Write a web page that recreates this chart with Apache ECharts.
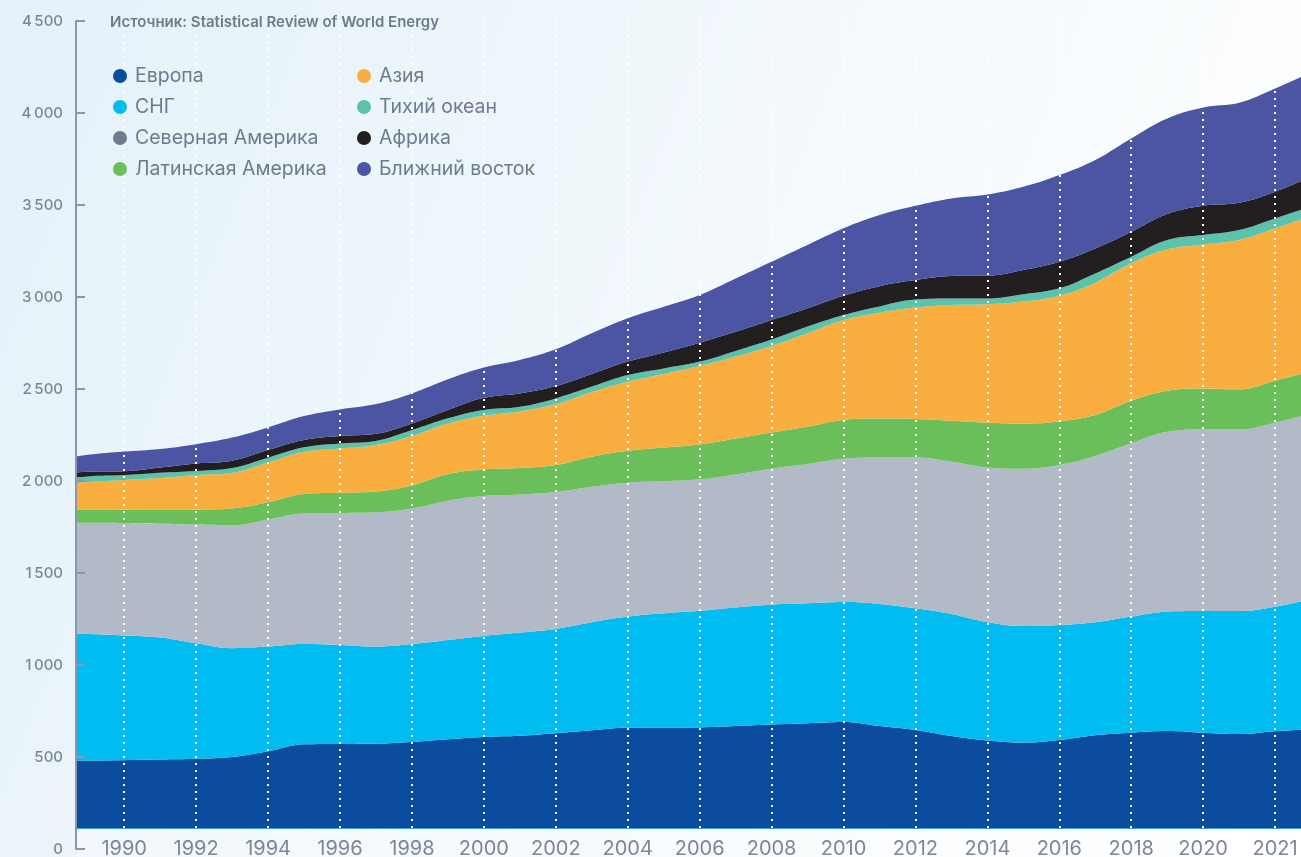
<!DOCTYPE html>
<html>
<head>
<meta charset="utf-8">
<script src="https://cdn.jsdelivr.net/npm/echarts@6/dist/echarts.min.js"></script>
<style>
  html, body { margin: 0; padding: 0; }
  #chart { width: 1301px; height: 857px; }
</style>
</head>
<body>
<div id="chart"></div>
<script>
// годы (видимая часть оси — примерно 1988.7 … 2022.7)
const years = [1988, 1989, 1990, 1991, 1992, 1993, 1994, 1995, 1996, 1997, 1998, 1999,
  2000, 2001, 2002, 2003, 2004, 2005, 2006, 2007, 2008, 2009, 2010, 2011,
  2012, 2013, 2014, 2015, 2016, 2017, 2018, 2019, 2020, 2021, 2022, 2023]

const europe = [478, 481, 483, 486, 490, 500, 531, 569, 571, 572, 581, 596,
  609, 615, 629, 645, 659, 660, 661, 668, 676, 683, 690, 668,
  647, 614, 589, 578, 592, 618, 632, 641, 632, 625, 640, 651]
const cis = [697, 688, 678, 664, 628, 591, 569, 545, 538, 528, 533, 540,
  549, 561, 567, 587, 604, 621, 634, 645, 652, 652, 652, 664,
  661, 663, 643, 634, 625, 614, 631, 649, 661, 668, 677, 706]
const northAmerica = [599, 604, 611, 618, 645, 668, 691, 709, 717, 730, 737, 757,
  760, 750, 744, 737, 728, 717, 714, 723, 739, 757, 779, 796,
  820, 828, 842, 855, 870, 904, 942, 978, 987, 987, 1000, 1010]
const latinAmerica = [71, 72, 73, 77, 82, 92, 93, 106, 110, 113, 125, 145,
  145, 145, 147, 163, 173, 184, 190, 195, 197, 203, 211, 211,
  209, 223, 243, 246, 237, 223, 231, 222, 223, 218, 228, 229]
const asia = [133, 150, 161, 171, 188, 194, 217, 230, 241, 253, 269, 275,
  292, 307, 331, 352, 376, 400, 426, 445, 470, 508, 543, 576,
  606, 629, 643, 662, 683, 719, 747, 769, 783, 812, 828, 845]
const pacific = [30, 30, 26, 29, 22, 26, 26, 24, 27, 22, 32, 28,
  31, 25, 31, 29, 36, 30, 24, 31, 35, 36, 27, 34,
  43, 35, 32, 40, 40, 50, 36, 51, 51, 54, 54, 51]
const africa = [26, 25, 21, 28, 40, 39, 41, 40, 41, 39, 36, 45,
  66, 73, 67, 69, 73, 87, 103, 104, 106, 100, 105, 110,
  106, 122, 124, 132, 145, 136, 136, 141, 159, 148, 145, 163]
const middleEast = [80, 92, 107, 101, 105, 126, 123, 130, 144, 161, 163, 167,
  165, 182, 200, 221, 235, 248, 259, 290, 317, 344, 366, 386,
  404, 422, 441, 452, 471, 481, 507, 519, 534, 544, 561, 567]

const xTickYears = [1990, 1992, 1994, 1996, 1998, 2000, 2002, 2004, 2006, 2008, 2010,
  2012, 2014, 2016, 2018, 2020, 2022]
const xTickLabels = ['1990', '1992', '1994', '1996', '1998', '2000', '2002', '2004', '2006', '2008', '2010',
  '2012', '2014', '2016', '2018', '2020', '2021']
const yTickValues = [0, 500, 1000, 1500, 2000, 2500, 3000, 3500, 4000, 4500]
const yTickLabels = ['0', '500', '1\u2009000', '1\u2009500', '2\u2009000', '2\u2009500', '3\u2009000', '3\u2009500', '4\u2009000', '4\u2009500']

const regions = [
  {name: 'Европа', data: europe, color: '#0b4c9f'},
  {name: 'СНГ', data: cis, color: '#00bcf1'},
  {name: 'Северная Америка', data: northAmerica, color: '#b1bac6', legendColor: '#6f7c8e'},
  {name: 'Латинская Америка', data: latinAmerica, color: '#6bbf5b'},
  {name: 'Азия', data: asia, color: '#fbae40'},
  {name: 'Тихий океан', data: pacific, color: '#5bc3ab'},
  {name: 'Африка', data: africa, color: '#231f20'},
  {name: 'Ближний восток', data: middleEast, color: '#4b55a3'}
]

const textColor = '#6d7b8f'
const axisColor = '#8b97a8'
const xMin = 1988.66
const xMax = 2022.72
const gridBottom = 8
const bandHeight = 21 // светлая полоса под областями, где стоят подписи лет

function legendBlock(items, left) {
  return {
    orient: 'vertical',
    left: left,
    top: 61,
    icon: 'circle',
    itemWidth: 20,
    itemHeight: 14,
    itemGap: 11,
    selectedMode: false,
    textStyle: {fontFamily: 'Inter', fontSize: 19.5, color: textColor, lineHeight: 20},
    data: items.map(r => r.legendColor ? {name: r.name, itemStyle: {color: r.legendColor}} : {name: r.name})
  }
}

const chart = echarts.init(document.getElementById('chart'), null, {renderer: 'canvas'})

chart.setOption({
  animation: false,
  backgroundColor: {
    type: 'linear', x: 0, y: 0, x2: 1, y2: 0.6,
    colorStops: [{offset: 0, color: '#e4f1f9'}, {offset: 1, color: '#ffffff'}]
  },
  // подписи лет выходят за нижний край, как в оригинале — сетку не сжимаем
  grid: {left: 76, right: 0, top: 21, bottom: gridBottom, outerBoundsMode: 'none'},
  legend: [legendBlock(regions.slice(0, 4), 108), legendBlock(regions.slice(4), 352)],
  graphic: [
    {
      type: 'rect', z: 5, silent: true,
      shape: {x: 77, y: 857 - gridBottom - bandHeight + 0.5, width: 1224, height: bandHeight + gridBottom},
      style: {
        fill: {
          type: 'linear', x: 0, y: 0, x2: 1, y2: 0,
          colorStops: [{offset: 0, color: '#f2f8fb'}, {offset: 1, color: '#ffffff'}]
        }
      }
    },
    {
      type: 'text', left: 110, top: 15, z: 10,
      style: {
        text: 'Источник: Statistical Review of World Energy',
        fill: textColor,
        font: '600 15px Inter'
      }
    }
  ],
  xAxis: [
    {
      // подписи лет и линия основания
      type: 'value', min: xMin, max: xMax, z: 10,
      position: 'bottom', offset: -bandHeight,
      axisLine: {show: true, lineStyle: {color: '#3b9be0', width: 1}},
      axisTick: {show: false},
      splitLine: {show: false},
      axisLabel: {
        customValues: xTickYears,
        margin: 11,
        fontFamily: 'Inter',
        fontSize: 20,
        color: '#7b8799',
        formatter: v => xTickLabels[xTickYears.indexOf(v)] || ''
      }
    },
    {
      // пунктирные вертикальные линии поверх областей
      type: 'value', min: xMin, max: xMax, z: 4,
      axisLine: {show: false},
      axisLabel: {show: false},
      axisTick: {show: false, customValues: xTickYears},
      splitLine: {show: true, lineStyle: {color: '#ffffff', width: 2, type: [2, 5]}}
    }
  ],
  yAxis: {
    type: 'value', min: 0, max: 4500, interval: 500, z: 10,
    axisLine: {show: true, lineStyle: {color: axisColor, width: 2}},
    axisTick: {show: true, inside: true, length: 9, lineStyle: {color: axisColor, width: 2}},
    splitLine: {show: false},
    axisLabel: {
      margin: 13,
      fontFamily: 'Inter',
      fontWeight: 500,
      fontSize: 15,
      color: '#7b8799',
      formatter: v => yTickLabels[yTickValues.indexOf(v)]
    }
  },
  series: regions.map(r => ({
    name: r.name,
    type: 'line',
    stack: 'total',
    smooth: 0.4,
    symbol: 'none',
    color: r.color,
    lineStyle: {width: 0},
    areaStyle: {color: r.color, opacity: 1},
    emphasis: {disabled: true},
    // первое измерение — значение, чтобы стек шёл по оси Y
    dimensions: ['value', 'year'],
    encode: {x: 'year', y: 'value'},
    data: years.map((y, i) => [r.data[i], y])
  }))
})
</script>
</body>
</html>
